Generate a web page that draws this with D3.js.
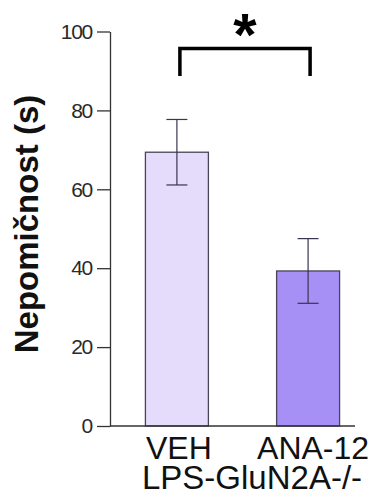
<!DOCTYPE html>
<html>
<head>
<meta charset="utf-8">
<script src="https://cdn.jsdelivr.net/npm/d3@7"></script>
<style>
  body { margin: 0; background: #fff; }
  svg { display: block; }
  text { font-family: "Liberation Sans", Arial, sans-serif; }
</style>
</head>
<body>
<div id="chart"></div>
<script>
// data
var groups = ["VEH", "ANA-12"];
var means = [69.4, 39.3];
var errors = [8.3, 8.2];
var barColors = ["#e5dcfc", "#a690f5"];
var yTicks = [0, 20, 40, 60, 80, 100];
var groupLabel = "LPS-GluN2A-/-";
var yLabel = "Nepomičnost (s)";

var svgWidth = 382;
var svgHeight = 502;

var svg = d3.select("#chart")
    .append("svg")
    .attr("width", svgWidth)
    .attr("height", svgHeight);

// scales
var xScale = d3.scaleBand()
    .domain(groups)
    .range([110, 375])
    .paddingInner(0.52)
    .paddingOuter(0.27);

var yScale = d3.scaleLinear()
    .domain([0, 100])
    .range([426, 31.5]);

// bars
svg.selectAll("rect.bar")
    .data(groups)
    .enter()
    .append("rect")
    .attr("class", "bar")
    .attr("x", d => xScale(d))
    .attr("y", (d, i) => yScale(means[i]))
    .attr("width", xScale.bandwidth())
    .attr("height", (d, i) => yScale(0) - yScale(means[i]))
    .attr("fill", (d, i) => barColors[i])
    .attr("stroke", "#4a4458")
    .attr("stroke-width", 1.3);

// error bars
var errG = svg.selectAll("g.err")
    .data(groups)
    .enter()
    .append("g")
    .attr("class", "err")
    .attr("stroke", "#3c3350")
    .attr("stroke-width", 1.2);

errG.append("line")
    .attr("x1", d => xScale(d) + xScale.bandwidth() / 2)
    .attr("x2", d => xScale(d) + xScale.bandwidth() / 2)
    .attr("y1", (d, i) => yScale(means[i] + errors[i]))
    .attr("y2", (d, i) => yScale(means[i] - errors[i]));

errG.selectAll("line.cap")
    .data((d, i) => [{ g: d, v: means[i] + errors[i] }, { g: d, v: means[i] - errors[i] }])
    .enter()
    .append("line")
    .attr("class", "cap")
    .attr("x1", d => xScale(d.g) + xScale.bandwidth() / 2 - 10.5)
    .attr("x2", d => xScale(d.g) + xScale.bandwidth() / 2 + 10.5)
    .attr("y1", d => yScale(d.v))
    .attr("y2", d => yScale(d.v));

// y axis
var leftAxis = d3.axisLeft(yScale)
    .tickValues(yTicks)
    .tickSize(13)
    .tickPadding(5)
    .tickSizeOuter(0);

var yAxis = svg.append("g")
    .attr("transform", "translate(110,0)")
    .call(leftAxis);

yAxis.select(".domain").attr("stroke", "#333").attr("stroke-width", 1.3);
yAxis.selectAll(".tick line").attr("stroke", "#333").attr("stroke-width", 1.3);
yAxis.selectAll(".tick text")
    .attr("fill", "#2a2a2a")
    .style("font-size", "21px")
    .style("letter-spacing", "-1.3px")
    .attr("font-family", null);

// x axis baseline
svg.append("line")
    .attr("x1", 110)
    .attr("x2", 355)
    .attr("y1", yScale(0))
    .attr("y2", yScale(0))
    .attr("stroke", "#333")
    .attr("stroke-width", 1.3);

// category labels
svg.selectAll("text.xlab")
    .data(groups)
    .enter()
    .append("text")
    .attr("class", "xlab")
    .attr("x", (d, i) => xScale(d) + xScale.bandwidth() / 2 + (i === 0 ? 2 : 5))
    .attr("y", 459)
    .attr("text-anchor", "middle")
    .style("font-size", "32px")
    .attr("fill", "#111")
    .text(d => d);

svg.append("text")
    .attr("x", 142)
    .attr("y", 489)
    .style("font-size", "33px")
    .attr("fill", "#111")
    .text(groupLabel);

// y label
svg.append("text")
    .attr("transform", "translate(38,224) rotate(-90)")
    .attr("text-anchor", "middle")
    .style("font-size", "33px")
    .style("font-weight", "bold")
    .attr("fill", "#111")
    .text(yLabel);

// significance bracket
var x1 = xScale(groups[0]) + xScale.bandwidth() / 2 + 3;
var x2 = xScale(groups[1]) + xScale.bandwidth() / 2 + 2;
svg.append("path")
    .attr("d", `M${x1},76 V48.5 H${x2} V76`)
    .attr("fill", "none")
    .attr("stroke", "#000")
    .attr("stroke-width", 3.5);

svg.append("text")
    .attr("x", (x1 + x2) / 2)
    .attr("y", 55)
    .attr("text-anchor", "middle")
    .style("font-size", "60px")
    .style("font-weight", "bold")
    .attr("fill", "#000")
    .text("*");
</script>
</body>
</html>
